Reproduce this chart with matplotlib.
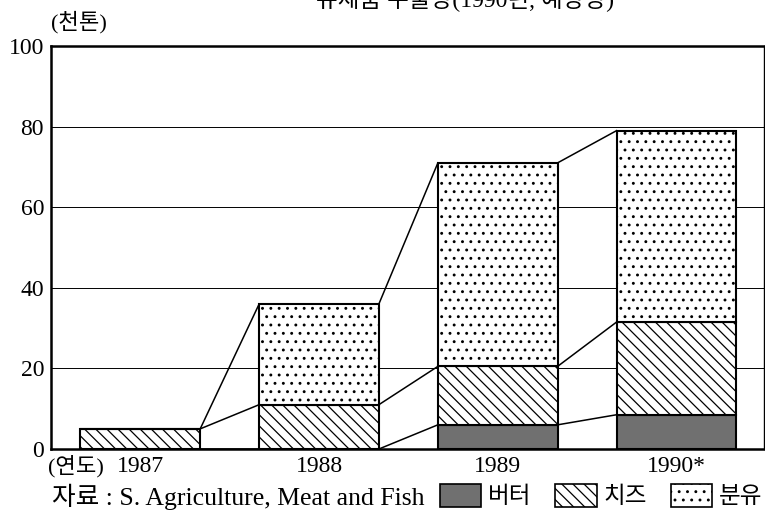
import numpy as np
import matplotlib
matplotlib.use("Agg")
import matplotlib.pyplot as plt
from matplotlib.patches import Patch

plt.rcParams['font.family'] = ['Liberation Serif', 'Noto Sans CJK KR', 'DejaVu Sans']
plt.rcParams['hatch.linewidth'] = 0.9

years = ['1987', '1988', '1989', '1990*']
butter = [0, 0, 6, 8.5]
cheese = [5, 11, 14.5, 23]
powder = [0, 25, 50.5, 47.5]

x = np.arange(len(years))
w = 0.67

butter_top = np.array(butter)
cheese_top = butter_top + np.array(cheese)
total = cheese_top + np.array(powder)

fig = plt.figure(figsize=(7.65, 5.17), dpi=100)
ax = fig.add_axes([51/765, 68/517, 713/765, 403/517])

# grid lines
for g in [20, 40, 60, 80]:
    ax.axhline(g, color='black', lw=0.7, zorder=1)

ax.bar(x, butter, w, color='#707070', edgecolor='black', lw=1.5, zorder=3)
ax.bar(x, cheese, w, bottom=butter_top, color='white', edgecolor='black',
       hatch='\\\\\\', lw=1.5, zorder=3)
ax.bar(x, powder, w, bottom=cheese_top, color='white', edgecolor='black',
       hatch='..', lw=1.5, zorder=3)

# connecting lines between bars
for level in [butter_top, cheese_top, total]:
    for i in range(len(x) - 1):
        ax.plot([x[i] + w/2, x[i+1] - w/2], [level[i], level[i+1]],
                color='black', lw=1.1, zorder=2)

ax.set_xlim(-0.5, 3.49)
ax.set_ylim(0, 100)
ax.set_yticks([0, 20, 40, 60, 80, 100])
ax.set_xticks(x)
ax.set_xticklabels(years)
ax.tick_params(length=0, labelsize=17, pad=5)
for s in ['left', 'bottom', 'top']:
    ax.spines[s].set_linewidth(1.8)
ax.spines['right'].set_linewidth(1.0)

fig.text(79/765, 1 - 22/517, '(천톤)', fontsize=16, ha='center', va='center')
fig.text(76/765, 1 - 466/517, '(연도)', fontsize=16, ha='center', va='center')
fig.text(465/765, 1 - 12/517, '유제품 수출량(1990년, 예상량)', fontsize=17,
         ha='center', va='bottom')
fig.text(52/765, 1 - 497/517, '자료 : S. Agriculture, Meat and Fish', fontsize=18.5,
         ha='left', va='center')

handles = [Patch(facecolor='#707070', edgecolor='black', lw=1.2),
           Patch(facecolor='white', edgecolor='black', hatch='\\\\\\', lw=1.2),
           Patch(facecolor='white', edgecolor='black', hatch='..', lw=1.2)]
fig.legend(handles, ['버터', '치즈', '분유'], loc='center right',
           bbox_to_anchor=(1.0, 1 - 496/517), ncol=3, frameon=False,
           prop={'family': ['Noto Sans CJK KR'], 'size': 17}, borderpad=0,
           borderaxespad=0.1,
           handlelength=1.75, handleheight=1.15, handletextpad=0.3, columnspacing=1.0)

fig.savefig('out.png', dpi=100)
